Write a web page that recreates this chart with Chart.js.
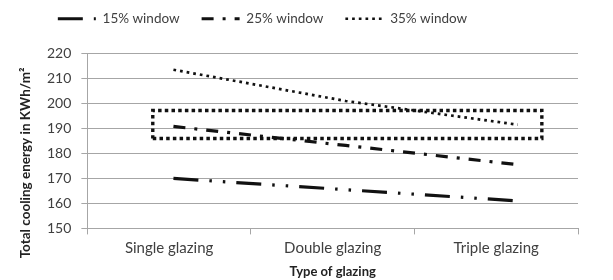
<!DOCTYPE html>
<html lang="en">
<head>
    <meta charset="UTF-8">
    <title>Total cooling energy by glazing type</title>
    <style>
        body {
            margin: 0;
            background: #fff;
        }

        .chart-container {
            width: 613px;
            height: 280px;
        }
    </style>
</head>
<body>
    <div class="chart-container">
        <canvas id="glazing-chart"></canvas>
    </div>
    <script src="https://cdn.jsdelivr.net/npm/chart.js"></script>
    <script>
    const categories = ['Single glazing', 'Double glazing', 'Triple glazing'];
    const window15 = [170, 165.5, 161];
    const window25 = [190.8, 183.2, 175.5];
    const window35 = [213.5, 201, 191.5];
    const yTicks = [150, 160, 170, 180, 190, 200, 210, 220];
    // highlighted region (dotted box), in glazing index / kWh units
    const boxX = [-0.12, 2.14];
    const boxY = [186, 197.2];

    const textColor = '#404040';
    const gridColor = '#a6a6a6';
    const fontFamily = 'Lato, "Open Sans", sans-serif';
    const yTitle = 'Total cooling energy in KWh/m²';

    function toPoints(values) {
        return values.map((v, i) => ({ x: i, y: v }));
    }

    const boxPoints = [
        { x: boxX[0], y: boxY[0] },
        { x: boxX[1], y: boxY[0] },
        { x: boxX[1], y: boxY[1] },
        { x: boxX[0], y: boxY[1] },
        { x: boxX[0], y: boxY[0] }
    ];

    function lineSet(label, values, dash, width) {
        return {
            label: label,
            data: toPoints(values),
            xAxisID: 'xData',
            borderColor: '#111',
            backgroundColor: '#111',
            borderWidth: width,
            borderDash: dash,
            borderCapStyle: 'butt',
            pointRadius: 0,
            tension: 0,
            fill: false
        };
    }

    // extra room under the legend, and nudge it left like the original
    const legendTweak = {
        id: 'legendTweak',
        beforeInit(chart) {
            const fit = chart.legend.fit;
            chart.legend.fit = function () {
                fit.bind(chart.legend)();
                this.height += 18;
            };
        },
        afterLayout(chart) {
            chart.legend.left -= 45;
            chart.legend.right -= 45;
        }
    };

    // y title drawn by hand so it can sit a bit lower than the plot centre
    const yTitlePlugin = {
        id: 'yTitlePlugin',
        afterDraw(chart) {
            const c = chart.ctx;
            const area = chart.chartArea;
            c.save();
            c.translate(26, (area.top + area.bottom) / 2 + 22);
            c.rotate(-Math.PI / 2);
            c.font = 'bold 13.5px ' + fontFamily;
            c.fillStyle = '#222';
            c.textAlign = 'center';
            c.textBaseline = 'middle';
            c.fillText(yTitle, 0, 0);
            c.restore();
        }
    };

    const ctx = document.getElementById('glazing-chart').getContext('2d');
    new Chart(ctx, {
        type: 'line',
        data: {
            labels: categories,
            datasets: [
                lineSet('15% window', window15, [25, 11, 2.5, 11, 2.5, 11], 3.2),
                lineSet('25% window', window25, [12, 9, 3, 9], 3.2),
                lineSet('35% window', window35, [2.7, 4], 2.7),
                Object.assign(lineSet('box', [], [3.5, 3.2], 3.4), { data: boxPoints })
            ]
        },
        plugins: [legendTweak, yTitlePlugin],
        options: {
            responsive: true,
            maintainAspectRatio: false,
            animation: false,
            layout: {
                padding: { top: -10, right: 35, left: 37, bottom: 0 }
            },
            plugins: {
                tooltip: { enabled: false },
                legend: {
                    position: 'top',
                    labels: {
                        usePointStyle: true,
                        pointStyle: 'line',
                        pointStyleWidth: 38,
                        padding: 22,
                        color: textColor,
                        font: { family: fontFamily, size: 13.5 },
                        filter: item => item.text !== 'box',
                        generateLabels: chart => Chart.defaults.plugins.legend.labels.generateLabels(chart).map(item => {
                            const ds = chart.data.datasets[item.datasetIndex];
                            item.lineDash = ds.borderDash;
                            item.lineWidth = ds.borderWidth;
                            item.strokeStyle = ds.borderColor;
                            item.lineCap = 'butt';
                            return item;
                        })
                    }
                }
            },
            scales: {
                x: {
                    type: 'category',
                    offset: true,
                    grid: {
                        offset: true,
                        drawOnChartArea: false,
                        drawTicks: true,
                        tickLength: 6,
                        color: gridColor
                    },
                    border: { color: gridColor },
                    ticks: {
                        color: textColor,
                        font: { family: fontFamily, size: 15 },
                        padding: 5
                    },
                    title: {
                        display: true,
                        text: 'Type of glazing',
                        color: '#222',
                        font: { family: fontFamily, size: 13, weight: 'bold' },
                        padding: { top: 2, bottom: 0 }
                    }
                },
                xData: {
                    type: 'linear',
                    display: false,
                    min: -0.5,
                    max: 2.35
                },
                y: {
                    min: 150,
                    max: 220,
                    afterBuildTicks: axis => {
                        axis.ticks = yTicks.map(v => ({ value: v }));
                    },
                    grid: {
                        color: gridColor,
                        tickLength: 6
                    },
                    border: { color: gridColor },
                    ticks: {
                        color: textColor,
                        font: { family: fontFamily, size: 14 },
                        padding: 10
                    }
                }
            }
        }
    });
    </script>
</body>
</html>
